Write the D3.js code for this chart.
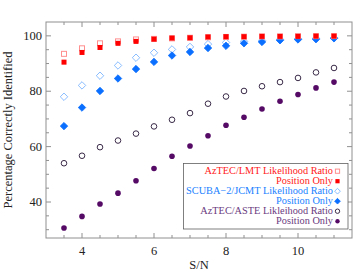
<!DOCTYPE html>
<html><head><meta charset="utf-8">
<script src="https://cdn.jsdelivr.net/npm/d3@7/dist/d3.min.js"></script>
<style>body{margin:0;background:#fff}svg{display:block}text{font-family:"Liberation Serif","Times New Roman",serif}</style>
</head><body><svg id="c" width="357" height="275"></svg>
<script>
const sn = [3.5,4,4.5,5,5.5,6,6.5,7,7.5,8,8.5,9,9.5,10,10.5,11];
const lmtLR   = [93.5,95.5,97.3,98.0,98.7,98.9,99.1,99.3,99.5,99.6,99.7,99.8,99.8,99.9,99.9,99.9];
const lmtPos  = [90.5,94.0,95.8,97.3,98.0,98.8,99.2,99.3,99.6,99.7,99.7,99.8,99.8,99.8,99.9,99.9];
const scubaLR = [78.0,82.1,85.6,89.3,92.1,93.9,95.1,96.0,97.0,97.6,98.0,98.3,98.7,98.9,99.1,99.3];
const scubaPos= [67.4,74.1,80.1,84.6,88.0,90.6,92.9,94.2,95.6,96.4,97.3,97.8,98.4,98.7,98.8,99.1];
const asteLR  = [54.0,56.7,59.8,62.2,64.7,67.3,69.7,72.1,75.5,78.1,80.1,81.8,83.3,84.8,86.8,88.4];
const astePos = [30.6,34.8,39.3,43.2,47.7,52.1,56.5,60.2,63.9,67.7,70.6,73.6,76.4,78.8,81.2,83.3];
const xTicks = [4,6,8,10];
const yTicks = [40,60,80,100];
const legendLabels = ["AzTEC/LMT Likelihood Ratio","Position Only","SCUBA\u22122/JCMT Likelihood Ratio","Position Only","AzTEC/ASTE Likleihood Ratio","Position Only"];

const series = [
  {vals:lmtLR, shape:"square", fill:false, color:"#ff8f8f", text:"#ff2020"},
  {vals:lmtPos, shape:"square", fill:true, color:"#ff0000", text:"#ff2020"},
  {vals:scubaLR, shape:"diamond", fill:false, color:"#7ab4ff", text:"#1a7fff"},
  {vals:scubaPos, shape:"diamond", fill:true, color:"#0a6fff", text:"#1a7fff"},
  {vals:asteLR, shape:"circle", fill:false, color:"#3a2a48", text:"#6a3a7e"},
  {vals:astePos, shape:"circle", fill:true, color:"#550a66", text:"#6a3a7e"}
];

const FONT='"Liberation Serif","Times New Roman",serif';
const svg = d3.select("#c");
const L=46, R=352, T=22, B=238;
const x = d3.scaleLinear().domain([3,11.5]).range([L,R]);
const y = d3.scaleLinear().domain([27,105]).range([B,T]);
const frame="#909090";

svg.append("rect").attr("x",L).attr("y",T).attr("width",R-L).attr("height",B-T)
  .attr("fill","none").attr("stroke",frame).attr("stroke-width",1);

const g = svg.append("g");
const xMinor = d3.range(3.5,11.5,0.5);
const yMinor = d3.range(30,105,5);
xMinor.forEach(v=>{
  const len = (v%2===0)?5:3;
  g.append("line").attr("x1",x(v)).attr("x2",x(v)).attr("y1",B).attr("y2",B-len).attr("stroke",frame);
  g.append("line").attr("x1",x(v)).attr("x2",x(v)).attr("y1",T).attr("y2",T+len).attr("stroke",frame);
});
yMinor.forEach(v=>{
  const len = (v%20===0)?5:3;
  g.append("line").attr("y1",y(v)).attr("y2",y(v)).attr("x1",L).attr("x2",L+len).attr("stroke",frame);
  g.append("line").attr("y1",y(v)).attr("y2",y(v)).attr("x1",R).attr("x2",R-len).attr("stroke",frame);
});
xTicks.forEach(v=>{
  svg.append("text").attr("x",x(v)).attr("y",255).attr("text-anchor","middle").attr("font-family",FONT)
    .attr("font-size",12.5).attr("fill","#222").text(v);
});
yTicks.forEach(v=>{
  svg.append("text").attr("x",42).attr("y",y(v)+4).attr("text-anchor","end").attr("font-family",FONT)
    .attr("font-size",12.5).attr("fill","#222").text(v);
});
svg.append("text").attr("x",199).attr("y",269).attr("text-anchor","middle").attr("font-family",FONT)
  .attr("font-size",12.5).attr("fill","#222").text("S/N");
svg.append("text").attr("transform",`translate(12,${(T+B)/2}) rotate(-90)`).attr("text-anchor","middle").attr("font-family",FONT)
  .attr("font-size",12.5).attr("fill","#222").text("Percentage Correctly Identified");

function mark(sel, s, cx, cy, size){
  if(s.shape==="square"){
    sel.append("rect").attr("x",cx-size/2).attr("y",cy-size/2).attr("width",size).attr("height",size)
      .attr("fill",s.fill?s.color:"#fff").attr("stroke",s.color).attr("stroke-width",s.fill?0:1);
  } else if(s.shape==="diamond"){
    const h=size*0.62;
    sel.append("path").attr("d",`M${cx},${cy-h}L${cx+h},${cy}L${cx},${cy+h}L${cx-h},${cy}Z`)
      .attr("fill",s.fill?s.color:"#fff").attr("stroke",s.color).attr("stroke-width",s.fill?0.8:0.9);
  } else {
    sel.append("circle").attr("cx",cx).attr("cy",cy).attr("r",size*0.5)
      .attr("fill",s.fill?s.color:"#fff").attr("stroke",s.color).attr("stroke-width",s.fill?0:1);
  }
}
const order=[4,5,2,3,0,1];
order.forEach(i=>{
  const s=series[i];
  const sg=svg.append("g");
  s.vals.forEach((v,j)=>mark(sg,s,x(sn[j]),y(v), s.shape==="circle"?5.6:(s.shape==="diamond"?6:5)));
});

// legend
const lg = svg.append("g");
lg.append("rect").attr("x",183.5).attr("y",163.5).attr("width",164.5).attr("height",65.5)
  .attr("fill","#fff").attr("stroke","#606060").attr("stroke-width",0.8);
legendLabels.forEach((t,i)=>{
  const yy=170.7+i*10;
  lg.append("text").attr("x",333).attr("y",yy+3.5).attr("text-anchor","end").attr("font-family",FONT)
    .attr("font-size",10.3).attr("fill",series[i].text).text(t);
  mark(lg,series[i],337.5,yy+0.5, series[i].shape==="circle"?4.4:(series[i].shape==="diamond"?4.6:4.2));
});
</script></body></html>
